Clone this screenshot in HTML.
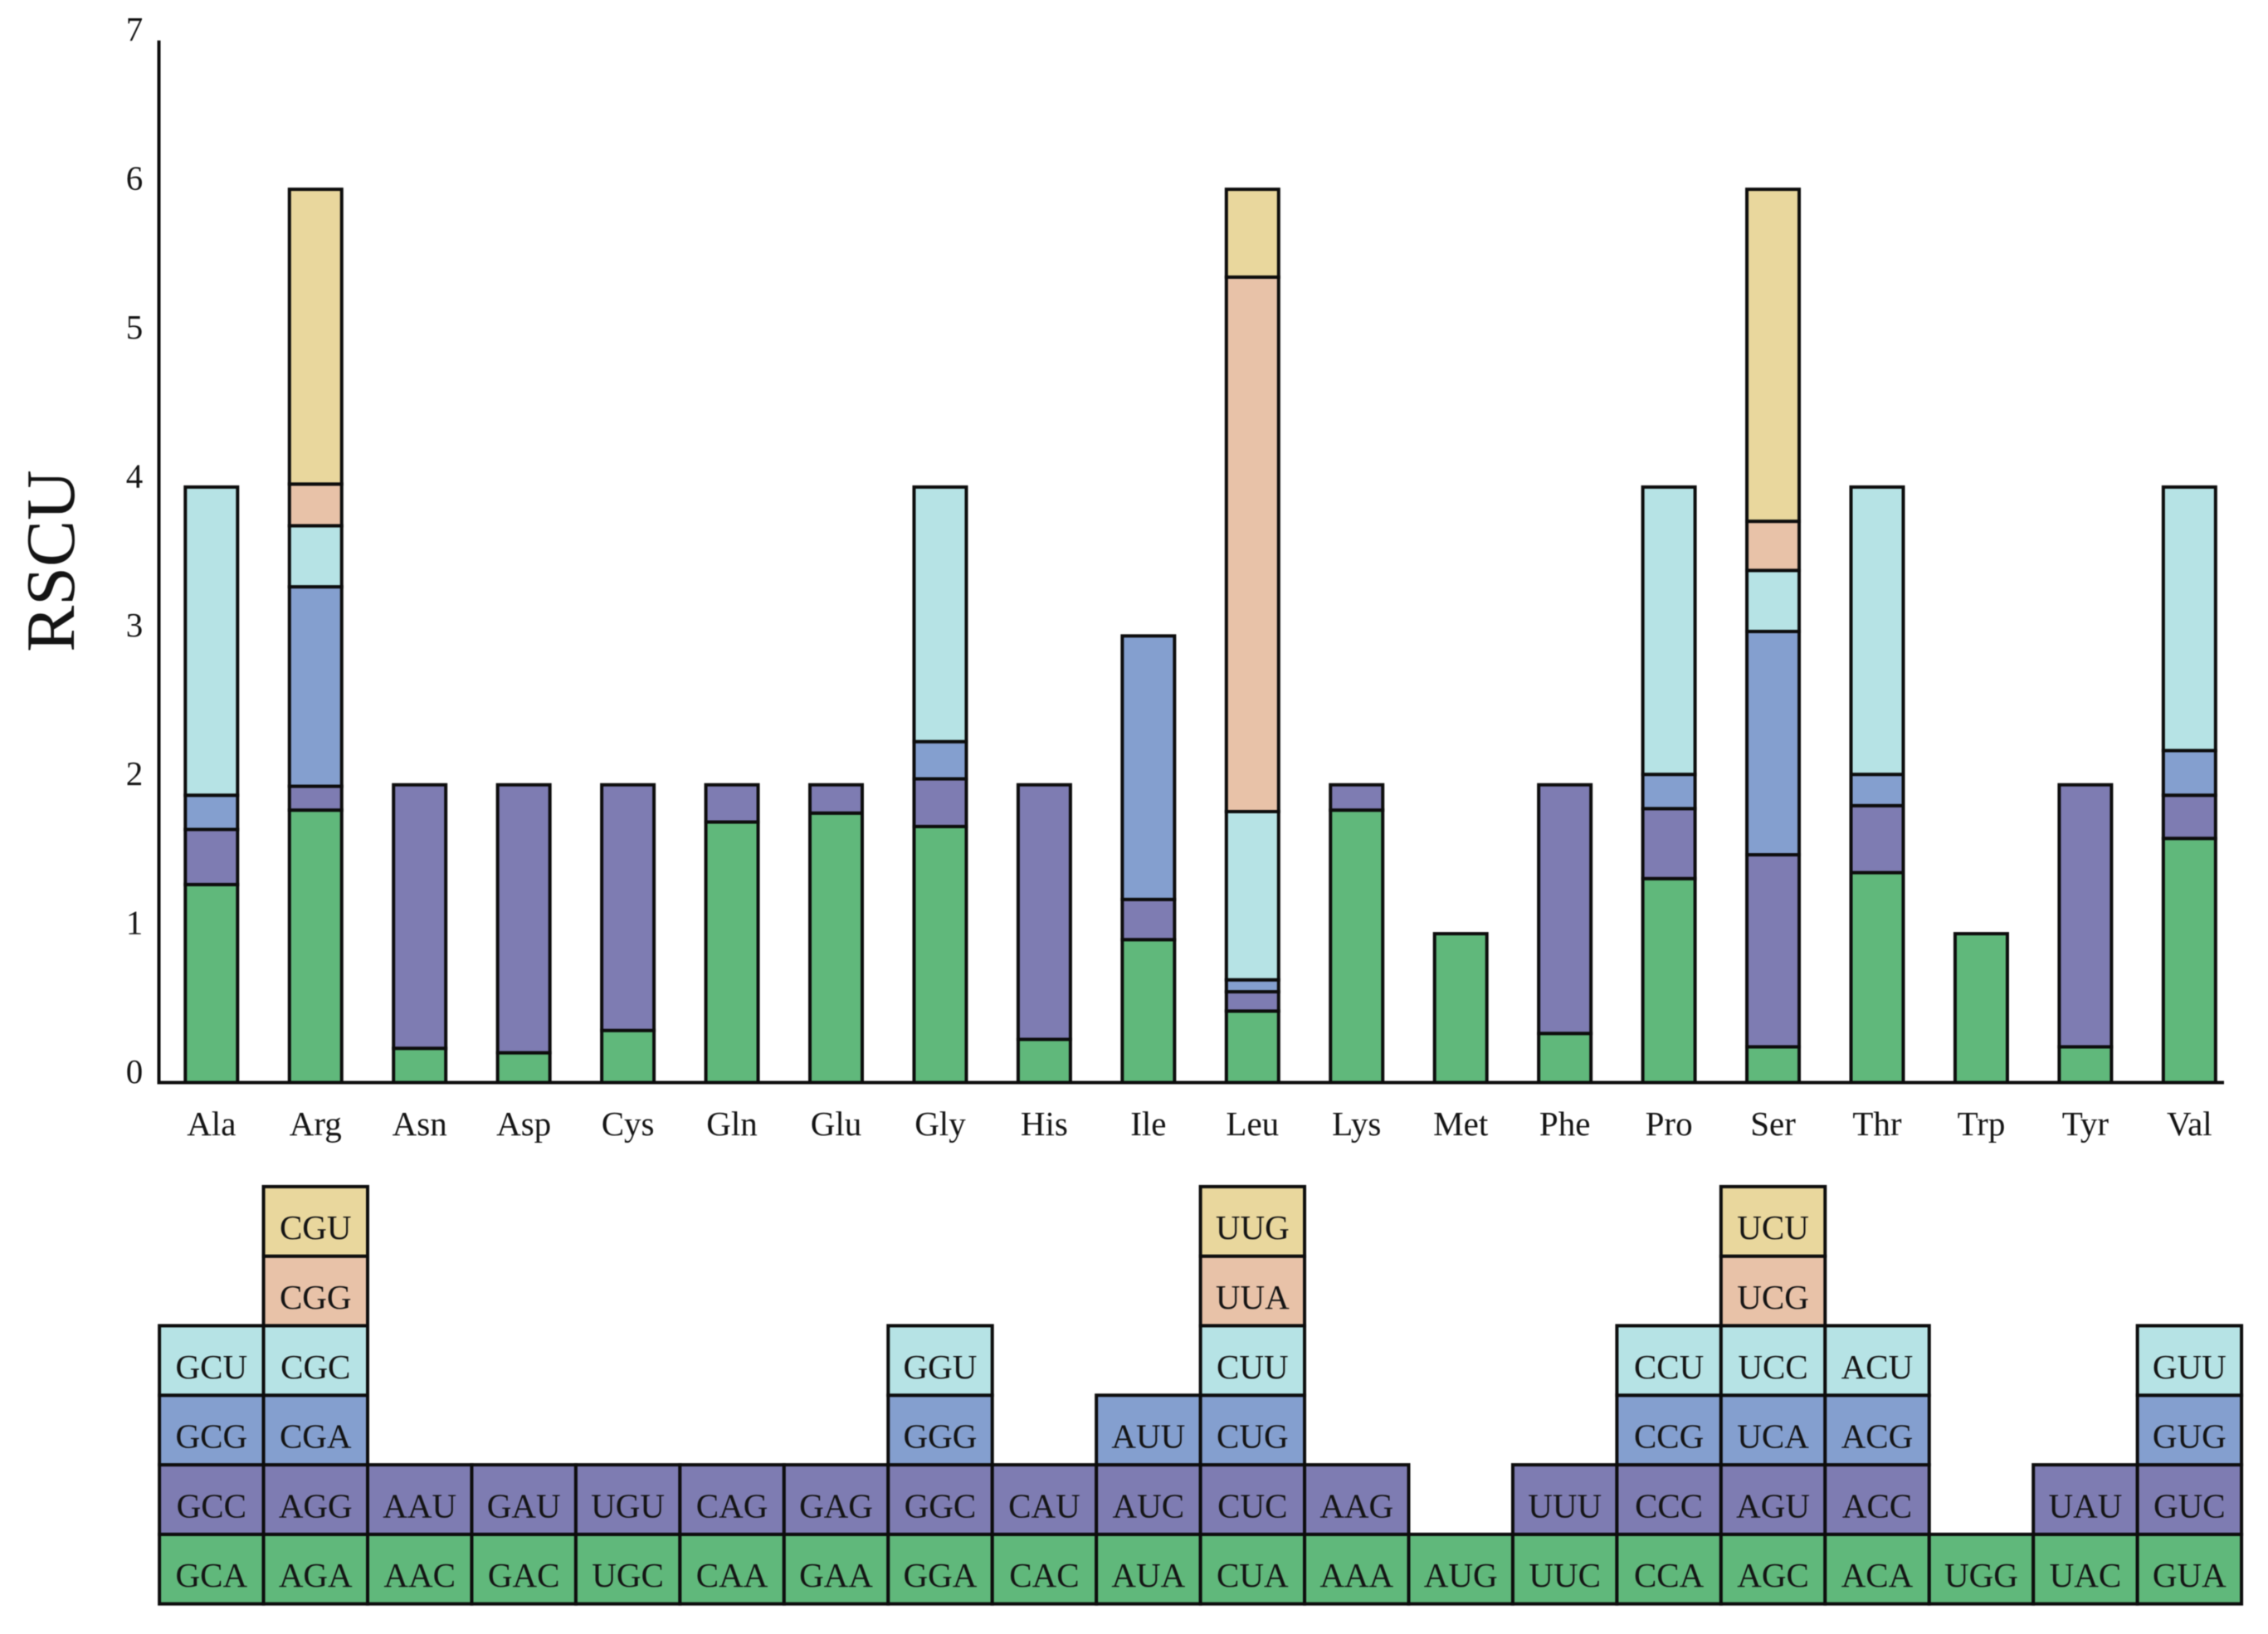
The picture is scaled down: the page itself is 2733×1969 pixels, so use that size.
<!DOCTYPE html>
<html lang="en">
<head>
<meta charset="utf-8">
<title>RSCU stacked bar chart</title>
<style>
html,body{margin:0;padding:0;background:#fff;}
svg{display:block;filter:blur(0.6px);}
text{font-family:"Liberation Serif",serif;fill:#141414;}
</style>
</head>
<body>
<svg id="chart" xmlns="http://www.w3.org/2000/svg" width="2733" height="1969" viewBox="0 0 2733 1969"></svg>
<script>
const categories = ["Ala","Arg","Asn","Asp","Cys","Gln","Glu","Gly","His","Ile","Leu","Lys","Met","Phe","Pro","Ser","Thr","Trp","Tyr","Val"];
const yTicks = [0,1,2,3,4,5,6,7];
const stack1 = [1.33,1.83,0.23,0.20,0.35,1.75,1.81,1.72,0.29,0.96,0.48,1.83,1,0.33,1.37,0.24,1.41,1,0.24,1.64];
const stack2 = [0.37,0.16,1.77,1.80,1.65,0.25,0.19,0.32,1.71,0.27,0.13,0.17,0,1.67,0.47,1.29,0.45,0,1.76,0.29];
const stack3 = [0.23,1.34,0,0,0,0,0,0.25,0,1.77,0.08,0,0,0,0.23,1.5,0.21,0,0,0.30];
const stack4 = [2.07,0.41,0,0,0,0,0,1.71,0,0,1.13,0,0,0,1.93,0.41,1.93,0,0,1.77];
const stack5 = [0,0.28,0,0,0,0,0,0,0,0,3.59,0,0,0,0,0.33,0,0,0,0];
const stack6 = [0,1.98,0,0,0,0,0,0,0,0,0.59,0,0,0,0,2.23,0,0,0,0];
const codonsAla = ["GCA","GCC","GCG","GCU"];
const codonsArg = ["AGA","AGG","CGA","CGC","CGG","CGU"];
const codonsAsn = ["AAC","AAU"];
const codonsAsp = ["GAC","GAU"];
const codonsCys = ["UGC","UGU"];
const codonsGln = ["CAA","CAG"];
const codonsGlu = ["GAA","GAG"];
const codonsGly = ["GGA","GGC","GGG","GGU"];
const codonsHis = ["CAC","CAU"];
const codonsIle = ["AUA","AUC","AUU"];
const codonsLeu = ["CUA","CUC","CUG","CUU","UUA","UUG"];
const codonsLys = ["AAA","AAG"];
const codonsMet = ["AUG"];
const codonsPhe = ["UUC","UUU"];
const codonsPro = ["CCA","CCC","CCG","CCU"];
const codonsSer = ["AGC","AGU","UCA","UCC","UCG","UCU"];
const codonsThr = ["ACA","ACC","ACG","ACU"];
const codonsTrp = ["UGG"];
const codonsTyr = ["UAC","UAU"];
const codonsVal = ["GUA","GUC","GUG","GUU"];

const stacks = [stack1,stack2,stack3,stack4,stack5,stack6];
const codonColumns = [codonsAla,codonsArg,codonsAsn,codonsAsp,codonsCys,codonsGln,codonsGlu,codonsGly,codonsHis,codonsIle,codonsLeu,codonsLys,codonsMet,codonsPhe,codonsPro,codonsSer,codonsThr,codonsTrp,codonsTyr,codonsVal];
const palette = ["#60b87b","#7e7cb2","#849fcf","#b6e3e5","#e8c2a8","#e9d79d"];

const svg = document.getElementById('chart');
const NS = 'http://www.w3.org/2000/svg';
const STROKE = '#0d0d0d';
const STROKE_W = 4;

function xCenter(i){ return 254.8 + i * 125.45; }
function yScale(v){ return 1304.5 - v * 179.4; }
function rowBottom(r){ return 1932.7 - r * 83.8; }

function make(tag, attrs, text){
  const el = document.createElementNS(NS, tag);
  for (const k in attrs) el.setAttribute(k, attrs[k]);
  if (text !== undefined) el.textContent = text;
  svg.appendChild(el);
  return el;
}

/* bars */
categories.forEach(function(cat, i){
  let cum = 0;
  stacks.forEach(function(series, s){
    const v = series[i];
    if (!v) return;
    const top = yScale(cum + v);
    const bottom = yScale(cum);
    const r = make('rect', {x: xCenter(i) - 31.5, y: top, width: 63, height: bottom - top, fill: palette[s], stroke: STROKE, 'stroke-width': STROKE_W});
    
    
    cum += v;
  });
});

/* axes */
const yAxis = make('line', {x1: 191.5, y1: yScale(7), x2: 191.5, y2: yScale(0) + 2, stroke: STROKE, 'stroke-width': STROKE_W});


const xAxis = make('line', {x1: 190, y1: yScale(0), x2: 2680, y2: yScale(0), stroke: STROKE, 'stroke-width': STROKE_W});



/* y tick labels */
yTicks.forEach(function(t){
  const el = make('text', {x: 162, y: yScale(t) + 0.5, 'text-anchor': 'middle', 'font-size': 41}, String(t));
  
  
});

/* y axis title */
const title = make('text', {x: 0, y: 0, 'text-anchor': 'middle', 'font-size': 84, transform: 'translate(89 676) rotate(-90)'}, 'RSCU');



/* x category labels */
categories.forEach(function(cat, i){
  const el = make('text', {x: xCenter(i), y: 1368, 'text-anchor': 'middle', 'font-size': 41}, cat);
  
  
});

/* codon boxes */
codonColumns.forEach(function(col, i){
  col.forEach(function(codon, r){
    const bottom = rowBottom(r);
    const top = rowBottom(r + 1);
    const box = make('rect', {x: xCenter(i) - 62.7, y: top, width: 125.45, height: bottom - top, fill: palette[r], stroke: STROKE, 'stroke-width': STROKE_W});
    
    
  });
});
codonColumns.forEach(function(col, i){
  col.forEach(function(codon, r){
    const label = make('text', {x: xCenter(i), y: rowBottom(r) - 20.5, 'text-anchor': 'middle', 'font-size': 41}, codon);
    
    
  });
});
</script>
</body>
</html>
